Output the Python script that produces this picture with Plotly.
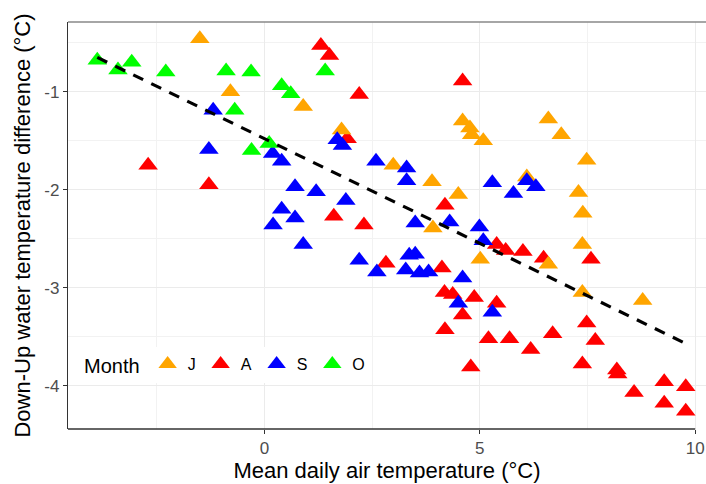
import plotly.graph_objects as go

# ---- data ----
months = ["J", "A", "S", "O"]
colors = {"J": "#FFA500", "A": "#FF0000", "S": "#0000FF", "O": "#00FF00"}

j_x = [-1.50, -0.79, 0.90, 1.79, 2.99, 3.89, 4.50, 4.60, 4.77, 4.81, 5.08, 6.59, 6.89, 7.48, 6.09, 7.29, 7.39, 7.38, 5.01, 6.59, 7.38, 8.78, 3.91]
j_y = [-0.46, -1.00, -1.15, -1.39, -1.75, -1.92, -2.05, -1.30, -1.37, -1.44, -1.50, -1.28, -1.44, -1.70, -1.87, -2.03, -2.24, -2.56, -2.71, -2.76, -3.05, -3.13, -2.39]

a_x = [-2.70, -1.29, 1.31, 1.51, 2.20, 4.60, 1.92, 4.19, 1.61, 2.31, 2.82, 4.12, 4.18, 4.37, 4.60, 4.19, 4.87, 4.79, 5.39, 5.60, 6.00, 6.48, 7.58, 5.39, 5.20, 5.69, 6.18, 6.69, 7.48, 7.68, 7.38, 8.18, 8.20, 8.58, 9.28, 9.78, 9.28, 9.78]
a_y = [-1.75, -1.95, -0.53, -0.63, -1.03, -0.89, -1.48, -2.16, -2.27, -2.36, -2.75, -2.80, -3.05, -3.07, -3.28, -3.43, -3.10, -3.81, -2.56, -2.62, -2.63, -2.70, -2.71, -3.16, -3.52, -3.52, -3.63, -3.47, -3.36, -3.54, -3.78, -3.84, -3.88, -4.07, -3.96, -4.01, -4.18, -4.26]

s_x = [-1.19, -1.29, 0.19, 0.40, 0.20, 0.71, 1.20, 1.89, 0.40, 0.71, 0.90, 1.69, 1.81, 2.59, 3.30, 3.30, 2.20, 2.61, 3.36, 3.50, 3.28, 3.60, 3.81, 4.60, 3.50, 4.30, 4.50, 4.99, 5.08, 5.29, 5.29, 5.78, 6.09, 6.30]
s_y = [-1.19, -1.59, -1.63, -1.71, -2.36, -1.97, -2.02, -2.11, -2.20, -2.29, -2.56, -1.49, -1.55, -1.71, -1.78, -1.91, -2.72, -2.84, -2.67, -2.66, -2.82, -2.85, -2.84, -2.90, -2.34, -2.33, -3.16, -2.38, -2.52, -3.25, -1.93, -2.04, -1.91, -1.97]

o_x = [-3.88, -3.40, -3.08, -2.29, -0.89, -0.31, 0.40, 0.61, -0.69, -0.30, 0.11, 1.41]
o_y = [-0.68, -0.78, -0.70, -0.80, -0.79, -0.80, -0.94, -1.02, -1.19, -1.60, -1.53, -0.79]

fit_x = [-3.88, 9.78]
fit_y = [-0.65, -3.57]

x_ticks = [0, 5, 10]
x_ticklabels = ["0", "5", "10"]
y_ticks = [-1, -2, -3, -4]
y_ticklabels = ["-1", "-2", "-3", "-4"]

x_range = [-4.56, 10.25]
y_range = [-4.442, -0.289]

series = {"J": (j_x, j_y), "A": (a_x, a_y), "S": (s_x, s_y), "O": (o_x, o_y)}
draw_order = ["A", "J", "S", "O"]

fig = go.Figure()
for m in draw_order:
    xs, ys = series[m]
    fig.add_trace(go.Scatter(
        x=xs, y=ys, mode="markers", name=m,
        legendrank=months.index(m) + 1,
        marker=dict(symbol="triangle-up", size=17, color=colors[m], line=dict(width=0)),
    ))

fig.add_trace(go.Scatter(
    x=fit_x, y=fit_y, mode="lines", showlegend=False,
    line=dict(color="black", width=3.2, dash="11px,9px"),
))

font = "Liberation Sans, Arial, sans-serif"
fig.update_layout(
    width=706, height=484,
    margin=dict(l=68, r=0, t=22, b=55),
    paper_bgcolor="white", plot_bgcolor="white",
    font=dict(family=font, color="black"),
    showlegend=True,
    legend=dict(
        orientation="h", x=0.022, y=0.157, xanchor="left", yanchor="middle",
        bgcolor="white", borderwidth=0,
        title=dict(text="Month", side="left", font=dict(size=20, color="black")),
        font=dict(size=16, color="black"),
        itemwidth=30, traceorder="normal",
    ),
    xaxis=dict(
        range=x_range, tickvals=x_ticks, ticktext=x_ticklabels, automargin=False,
        showgrid=True, gridcolor="#EBEBEB", gridwidth=1.2,
        minor=dict(dtick=2.5, tick0=0, showgrid=True, gridcolor="#F2F2F2", gridwidth=0.8),
        zeroline=False, showline=False,
        ticks="outside", ticklen=4, tickcolor="#333333",
        tickfont=dict(size=17, color="#4D4D4D"),
        title=dict(text="Mean daily air temperature (°C)", font=dict(size=22), standoff=4),
    ),
    yaxis=dict(
        range=y_range, tickvals=y_ticks, ticktext=y_ticklabels, automargin=False,
        showgrid=True, gridcolor="#EBEBEB", gridwidth=1.2,
        minor=dict(dtick=0.5, tick0=0, showgrid=True, gridcolor="#F2F2F2", gridwidth=0.8),
        zeroline=False, showline=True, linecolor="#333333", linewidth=1.3,
        ticks="outside", ticklen=4, tickcolor="#333333",
        tickfont=dict(size=17, color="#4D4D4D"),
        title=dict(text="Down-Up water temperature difference (°C)", font=dict(size=22), standoff=7),
    ),
    shapes=[
        dict(type="line", xref="paper", yref="paper", x0=0, x1=1, y0=1, y1=1,
             line=dict(color="#888888", width=1.3)),
        dict(type="line", xref="x", yref="paper", x0=x_range[0], x1=x_ticks[-1], y0=0, y1=0,
             line=dict(color="#333333", width=1.3)),
    ],
)

fig.write_html(
    "out.html",
    config={"displayModeBar": False},
    post_script="document.body.style.margin='0';document.body.style.overflow='hidden';",
)
